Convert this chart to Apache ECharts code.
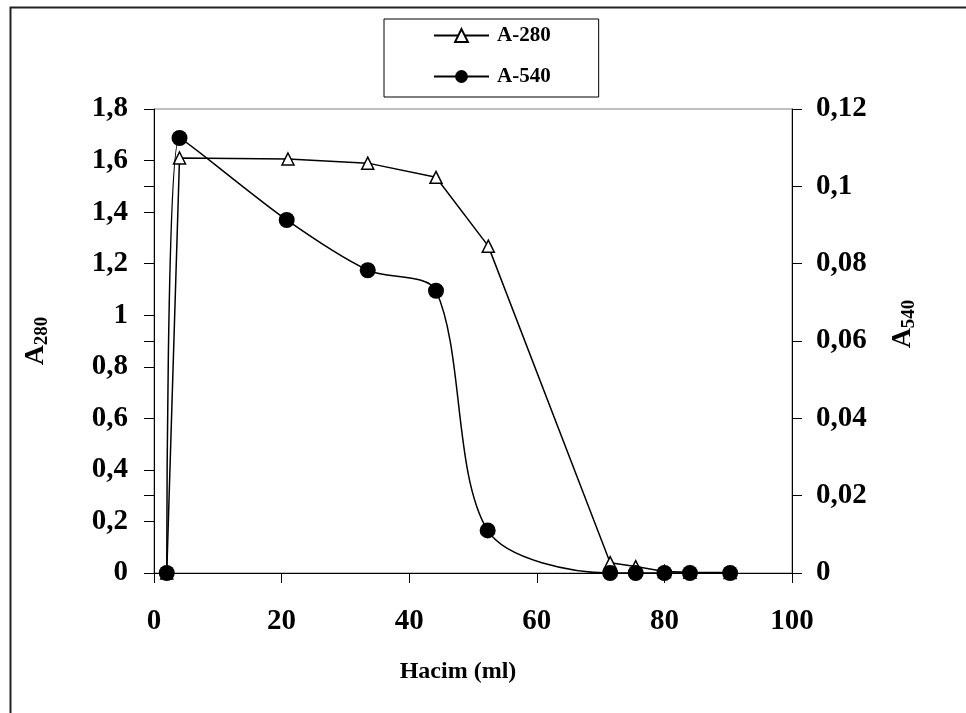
<!DOCTYPE html>
<html>
<head>
<meta charset="utf-8">
<script src="https://cdn.jsdelivr.net/npm/echarts@6/dist/echarts.min.js"></script>
<style>
html,body{margin:0;padding:0;background:#fff;}
#chart{width:966px;height:713px;}
</style>
</head>
<body>
<div id="chart"></div>
<script>
// ---- data ----
const volume280 = [2, 4, 21, 33.5, 44.2, 52.4, 71.5, 75.5, 80, 84, 90.3];
const a280 = [0, 1.61, 1.606, 1.59, 1.535, 1.268, 0.04, 0.025, 0.006, 0.003, 0.002];
const volume540 = [2, 4, 20.8, 33.5, 44.2, 52.3, 71.5, 75.5, 80, 84, 90.3];
const a540 = [0, 0.1125, 0.0913, 0.0783, 0.073, 0.011, 0, 0, 0, 0, 0];
const xTicks = [0, 20, 40, 60, 80, 100];
const leftTicks = [0, 0.2, 0.4, 0.6, 0.8, 1, 1.2, 1.4, 1.6, 1.8];
const rightTicks = [0, 0.02, 0.04, 0.06, 0.08, 0.1, 0.12];
const seriesNames = ['A-280', 'A-540'];
const xName = 'Hacim (ml)';

const FONT = "'Liberation Serif','Times New Roman',serif";
const fmt = v => String(Number(v.toFixed(3))).replace('.', ',');

const chart = echarts.init(document.getElementById('chart'), null, {renderer: 'canvas'});
const pair = (xs, ys) => xs.map((x, i) => [x, ys[i]]);

const option = {
  animation: false,
  backgroundColor: '#fff',
  graphic: [{
    type: 'rect', left: 8, top: 5, silent: true,
    shape: {width: 1000, height: 760},
    style: {fill: 'none', stroke: '#222', lineWidth: 2}
  }],
  legend: {
    orient: 'vertical',
    left: 384, top: 19,
    padding: [6, 48, 10, 49],
    itemGap: 20,
    itemWidth: 55, itemHeight: 16,
    borderColor: '#000', borderWidth: 1,
    backgroundColor: '#fff',
    data: seriesNames,
    textStyle: {fontFamily: FONT, fontWeight: 'bold', fontSize: 21, lineHeight: 21, color: '#000', padding: [0,0,0,3]}
  },
  grid: {left: 154, right: 174, top: 109, bottom: 140, show: true, borderColor: '#808080', borderWidth: 1, backgroundColor: 'transparent'},
  xAxis: {
    type: 'value', min: xTicks[0], max: xTicks[xTicks.length-1], interval: 20,
    name: xName, nameLocation: 'middle', nameGap: 87,
    nameTextStyle: {fontFamily: FONT, fontWeight: 'bold', fontSize: 24, color: '#000', padding: [0, 30, 0, 0]},
    axisLine: {show: true, lineStyle: {color: '#000', width: 1}},
    axisTick: {show: true, length: 10, lineStyle: {color: '#000'}},
    axisLabel: {margin: 34, fontFamily: FONT, fontWeight: 'bold', fontSize: 29, color: '#000'},
    splitLine: {show: false}
  },
  yAxis: [{
    type: 'value', position: 'left', min: 0, max: 1.8, interval: 0.2,
    name: '{a|A}{s|280}', nameLocation: 'middle', nameGap: 104, nameRotate: 90,
    nameTextStyle: {rich: {
      a: {fontFamily: FONT, fontWeight: 'bold', fontSize: 28, color: '#000', verticalAlign: 'bottom'},
      s: {fontFamily: FONT, fontWeight: 'bold', fontSize: 19, color: '#000', verticalAlign: 'bottom', padding: [0,0,-2,0]}
    }},
    axisLine: {show: true, onZero: false, lineStyle: {color: '#000', width: 1}},
    axisTick: {show: true, length: 10, lineStyle: {color: '#000'}},
    axisLabel: {margin: 26, fontFamily: FONT, fontWeight: 'bold', fontSize: 29, color: '#000', formatter: fmt},
    splitLine: {show: false}
  }, {
    type: 'value', position: 'right', min: 0, max: 0.12, interval: 0.02,
    name: '{a|A}{s|540}', nameLocation: 'middle', nameGap: 97, nameRotate: 90,
    nameTextStyle: {padding: [0, 0, 0, 34], rich: {
      a: {fontFamily: FONT, fontWeight: 'bold', fontSize: 28, color: '#000', verticalAlign: 'bottom'},
      s: {fontFamily: FONT, fontWeight: 'bold', fontSize: 19, color: '#000', verticalAlign: 'bottom', padding: [0,0,-2,0]}
    }},
    axisLine: {show: true, onZero: false, lineStyle: {color: '#000', width: 1}},
    axisTick: {show: true, length: 10, lineStyle: {color: '#000'}},
    axisLabel: {margin: 24, fontFamily: FONT, fontWeight: 'bold', fontSize: 29, color: '#000', formatter: fmt},
    splitLine: {show: false}
  }, {
    type: 'value', position: 'right', min: 0, max: 0.12, interval: 0.02,
    axisLine: {show: false},
    axisTick: {show: true, inside: true, length: 10, lineStyle: {color: '#000'}},
    axisLabel: {show: false},
    splitLine: {show: false}
  }],
  series: [{
    name: seriesNames[0], type: 'line', yAxisIndex: 0,
    data: pair(volume280, a280),
    symbol: 'triangle', symbolSize: 12,
    itemStyle: {color: '#fff', borderColor: '#000', borderWidth: 1.5},
    lineStyle: {color: '#000', width: 1.5},
    z: 2
  }, {
    name: seriesNames[1], type: 'line', yAxisIndex: 1,
    data: pair(volume540, a540),
    smooth: 0.3,
    symbol: 'circle', symbolSize: 16,
    itemStyle: {color: '#000', borderColor: '#000', borderWidth: 0},
    lineStyle: {color: '#000', width: 1.5},
    z: 3
  }]
};
chart.setOption(option);
</script>
</body>
</html>
